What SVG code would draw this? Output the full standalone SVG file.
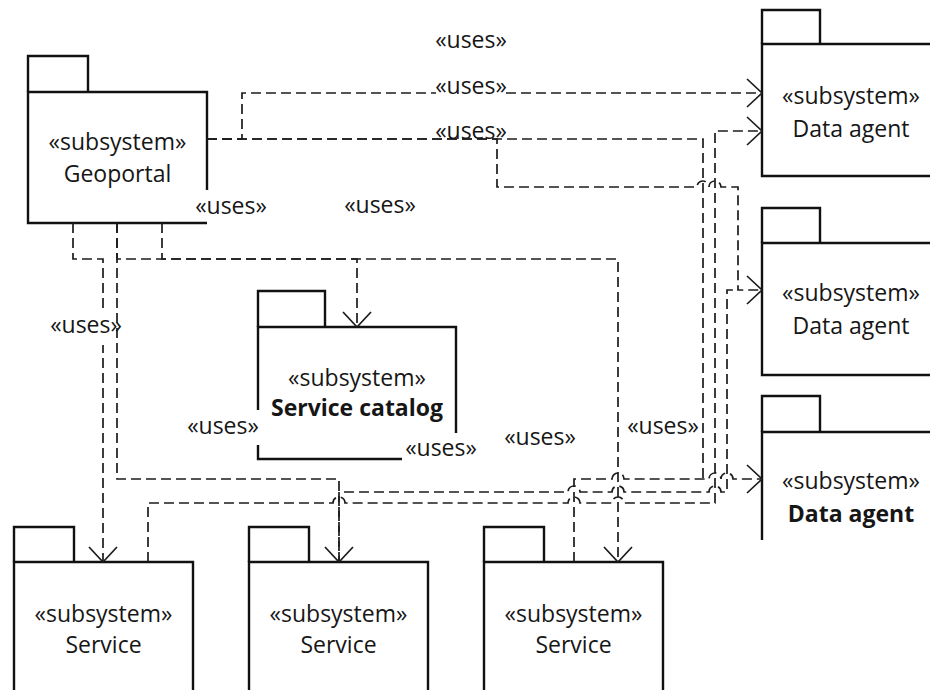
<svg xmlns="http://www.w3.org/2000/svg" width="930" height="690" viewBox="0 0 930 690">
<style>
  .box { fill: none; stroke: #111; stroke-width: 2.4; }
  .con { fill: none; stroke: #1c1c1c; stroke-width: 1.7; stroke-dasharray: 10 5; }
  .t { font-family: "Open Sans", "Liberation Sans", sans-serif; font-size: 23px; fill: #161616; text-anchor: middle; }
  .b { font-weight: bold; }
</style>
<defs>
  <marker id="arr" markerUnits="userSpaceOnUse" markerWidth="20" markerHeight="34" viewBox="-18 -17 20 34" refX="0" refY="0" orient="auto">
    <path d="M-15,-14 L0,0 L-15,14" fill="none" stroke="#1c1c1c" stroke-width="1.7"/>
  </marker>
</defs>
<rect width="930" height="690" fill="#fff"/>

<g id="geoportal">
  <path class="box" d="M28,92 V56 H88 V92"/>
  <path class="box" d="M207,190 V92 H28 V223 H207"/>
  <text class="t" x="117.5" y="150">«subsystem»</text>
  <text class="t" x="117.5" y="182">Geoportal</text>
</g>

<g id="data-agent-1">
  <path class="box" d="M762,44 V10 H820 V44"/>
  <path class="box" d="M940,44 H762 V176 H940"/>
  <text class="t" x="851" y="104">«subsystem»</text>
  <text class="t" x="851" y="137">Data agent</text>
</g>

<g id="data-agent-2">
  <path class="box" d="M762,243 V208 H820 V243"/>
  <path class="box" d="M940,243 H762 V375 H940"/>
  <text class="t" x="851" y="301">«subsystem»</text>
  <text class="t" x="851" y="334">Data agent</text>
</g>

<g id="data-agent-3">
  <path class="box" d="M762,432 V396 H820 V432"/>
  <path class="box" d="M940,432 H762 V540"/>
  <text class="t" x="851" y="489">«subsystem»</text>
  <text class="t b" x="851" y="522">Data agent</text>
</g>

<g id="service-catalog">
  <path class="box" d="M258,327 V291 H325 V327"/>
  <path class="box" d="M456,433 V327 H258 V410 M258,445 V459 H402"/>
  <text class="t" x="357" y="386">«subsystem»</text>
  <text class="t b" x="357" y="416">Service catalog</text>
</g>

<g id="service-1">
  <path class="box" d="M14,562 V527 H74 V562"/>
  <path class="box" d="M14,700 V562 H193 V700"/>
  <text class="t" x="103.5" y="622">«subsystem»</text>
  <text class="t" x="103.5" y="653">Service</text>
</g>

<g id="service-2">
  <path class="box" d="M249,562 V527 H309 V562"/>
  <path class="box" d="M249,700 V562 H428 V700"/>
  <text class="t" x="338.5" y="622">«subsystem»</text>
  <text class="t" x="338.5" y="653">Service</text>
</g>

<g id="service-3">
  <path class="box" d="M484,562 V527 H544 V562"/>
  <path class="box" d="M484,700 V562 H663 V700"/>
  <text class="t" x="573.5" y="622">«subsystem»</text>
  <text class="t" x="573.5" y="653">Service</text>
</g>

<g id="connectors">
  <path class="con" d="M207,139 H242 V93 H762" marker-end="url(#arr)"/>
  <path class="con" d="M207,139 H703 V479"/>
  <path class="con" d="M207,139 H497 V187 H697 A6,6 0 0 1 709,187 H709 A6,6 0 0 1 721,187 H738 V290 H762" marker-end="url(#arr)"/>
  <path class="con" d="M73,223 V259 H103 V562" marker-end="url(#arr)"/>
  <path class="con" d="M117,223 V479 H339 V562" marker-end="url(#arr)"/>
  <path class="con" d="M117,223 V259 H357 V327" marker-end="url(#arr)"/>
  <path class="con" d="M162,223 V259 H618 V562" marker-end="url(#arr)"/>
  <path class="con" d="M148,562 V503 H333 A6,6 0 0 1 345,503 H568 A6,6 0 0 1 580,503 H612 A6,6 0 0 1 624,503 H715 V131 H762" marker-end="url(#arr)"/>
  <path class="con" d="M339,562 V492 H568 A6,6 0 0 1 580,492 H612 A6,6 0 0 1 624,492 H709 A6,6 0 0 1 721,492 H727 V290 H738"/>
  <path class="con" d="M574,562 V479 H612 A6,6 0 0 1 624,479 H709 A6,6 0 0 1 721,479 H721 A6,6 0 0 1 733,479 H762" marker-end="url(#arr)"/>
</g>

<g id="labels">
  <text class="t" x="471" y="48">«uses»</text>
  <rect x="436" y="78" width="70" height="16" fill="#fff"/>
  <text class="t" x="471" y="94">«uses»</text>
  <text class="t" x="471" y="139">«uses»</text>
  <text class="t" x="231" y="214">«uses»</text>
  <text class="t" x="380" y="213">«uses»</text>
  <rect x="48" y="312" width="62" height="33" fill="#fff"/>
  <text class="t" x="86" y="333">«uses»</text>
  <text class="t" x="223" y="434">«uses»</text>
  <text class="t" x="441" y="456">«uses»</text>
  <text class="t" x="540" y="445">«uses»</text>
  <text class="t" x="663" y="434">«uses»</text>
</g>
</svg>
